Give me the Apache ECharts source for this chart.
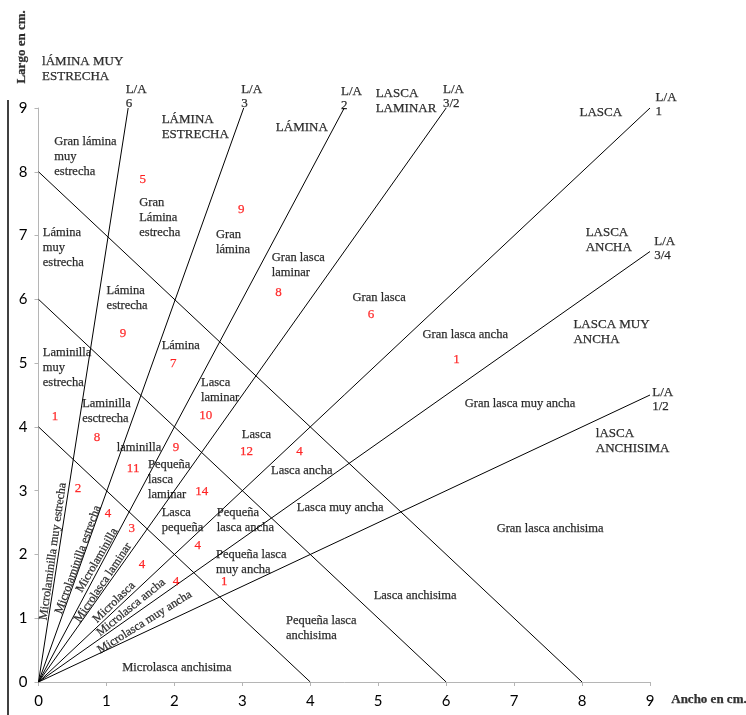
<!DOCTYPE html>
<html>
<head>
<meta charset="utf-8">
<script src="https://cdn.jsdelivr.net/npm/echarts@6/dist/echarts.min.js"></script>
<style>html,body{margin:0;padding:0;background:#fff}#c{width:746px;height:715px}</style>
</head>
<body>
<div id="c"></div>
<script>
// ---- Data ----
const axisMin = 0, axisMax = 9;

// Length/width ratio rays from origin (end points in cm)
const rayNames = ['L/A\n6', 'L/A\n3', 'L/A\n2', 'L/A\n3/2', 'L/A\n1', 'L/A\n3/4', 'L/A\n1/2'];
const rayEndX = [1.32, 3.02, 4.5, 6.0, 9.0, 9.0, 9.0];
const rayEndY = [9.0, 9.0, 9.0, 9.0, 9.0, 6.75, 4.5];
const rayLabelX = [1.29, 2.99, 4.46, 5.96, 9.09, 9.07, 9.04];
const rayLabelY = [9.39, 9.39, 9.36, 9.39, 9.26, 7.01, 4.64];

// Size boundaries (length + width = constant)
const sizeSums = [4, 6, 8];

// Shape classes (headers)
const classNames = ['lÁMINA MUY\nESTRECHA', 'LÁMINA\nESTRECHA', 'LÁMINA', 'LASCA\nLAMINAR', 'LASCA', 'LASCA\nANCHA', 'LASCA MUY\nANCHA', 'lASCA\nANCHISIMA'];
const classX = [0.06, 1.82, 3.50, 4.97, 7.97, 8.06, 7.88, 8.21];
const classY = [9.84, 8.93, 8.81, 9.34, 9.04, 7.15, 5.72, 4.00];

// Size/shape category names
const zoneNames = [
  'Gran lámina\nmuy\nestrecha', 'Lámina\nmuy\nestrecha', 'Gran\nLámina\nestrecha', 'Gran\nlámina',
  'Lámina\nestrecha', 'Lámina', 'Laminilla\nmuy\nestrecha', 'Laminilla\nesctrecha', 'laminilla',
  'Pequeña\nlasca\nlaminar', 'Lasca\npequeña', 'Pequeña lasca\nmuy ancha', 'Pequeña\nlasca ancha',
  'Lasca\nlaminar', 'Lasca', 'Lasca ancha', 'Lasca muy ancha', 'Gran lasca\nlaminar', 'Gran lasca',
  'Gran lasca ancha', 'Gran lasca muy ancha', 'Gran lasca anchisima', 'Lasca anchisima',
  'Pequeña lasca\nanchisima', 'Microlasca anchisima'
];
const zoneX = [0.24, 0.07, 1.49, 2.62, 1.01, 1.82, 0.07, 0.65, 1.16, 1.62, 1.82, 2.62, 2.63,
  2.40, 3.00, 3.43, 3.81, 3.44, 4.63, 5.66, 6.28, 6.75, 4.94, 3.65, 1.24];
const zoneY = [8.58, 7.16, 7.63, 7.12, 6.24, 5.39, 5.28, 4.47, 3.78, 3.51, 2.77, 2.10, 2.77,
  4.80, 3.98, 3.43, 2.84, 6.76, 6.13, 5.56, 4.48, 2.51, 1.46, 1.07, 0.34];

// Micro categories written along the rays
const microNames = ['Microlaminilla muy estrecha', 'Microlaminilla estrecha', 'Microlaminilla',
  'Microlasca laminar', 'Microlasca', 'Microlasca ancha', 'Microlasca muy ancha'];
const microX = [0.22, 0.59, 0.87, 0.96, 1.12, 1.37, 1.57];
const microY = [2.04, 1.91, 1.90, 1.55, 1.24, 1.16, 0.93];
const microAngle = [82, 70, 60, 56, 44, 39, 32];

// Counts of pieces (red numbers)
const counts = ['5', '9', '9', '7', '8', '6', '1', '10', '1', '8', '9', '11', '12', '4', '14',
  '2', '4', '3', '4', '4', '4', '1'];
const countX = [1.54, 2.99, 1.25, 1.99, 3.54, 4.90, 6.16, 2.47, 0.25, 0.87, 2.03, 1.40, 3.07,
  3.85, 2.41, 0.59, 1.03, 1.38, 2.35, 1.53, 2.03, 2.74];
const countY = [7.87, 7.40, 5.45, 4.98, 6.10, 5.75, 5.05, 4.17, 4.15, 3.82, 3.67, 3.34, 3.61,
  3.61, 2.98, 3.03, 2.63, 2.40, 2.13, 1.83, 1.57, 1.57];

// Axis titles
const xTitle = 'Ancho en cm.', yTitle = 'Largo en cm.';
const xTitlePos = [9.32, -0.28], yTitlePos = [-0.235, 9.95];

// ---- Chart ----
const serif = 'Liberation Serif';
const series = [];
const lineStyle = {color: '#000', width: 1};

rayEndX.forEach((ex, i) => {
  series.push({type: 'line', data: [[0, 0], [ex, rayEndY[i]]], showSymbol: false, symbol: 'none',
    lineStyle, silent: true, z: 3});
});
sizeSums.forEach(s => {
  series.push({type: 'line', data: [[0, s], [s, 0]], showSymbol: false, symbol: 'none',
    lineStyle, silent: true, z: 3});
});

function textSeries(names, xs, ys, label, rot) {
  return {
    type: 'scatter', symbolSize: 1, clip: false, silent: true, z: 5,
    itemStyle: {color: 'rgba(0,0,0,0)'},
    data: names.map((n, i) => ({name: n, value: [xs[i], ys[i]],
      label: rot ? {rotate: rot[i]} : undefined})),
    label: Object.assign({show: true, formatter: '{b}', position: [0, 0],
      textBorderColor: label.color, textBorderWidth: 0.25}, label)
  };
}

series.push(textSeries(classNames, classX, classY,
  {align: 'left', verticalAlign: 'top', fontFamily: serif, fontSize: 13, lineHeight: 15, color: '#000'}));
series.push(textSeries(rayNames, rayLabelX, rayLabelY,
  {align: 'left', verticalAlign: 'top', fontFamily: serif, fontSize: 13, lineHeight: 14, color: '#000'}));
series.push(textSeries(zoneNames, zoneX, zoneY,
  {align: 'left', verticalAlign: 'top', fontFamily: serif, fontSize: 12.5, lineHeight: 15, color: '#000'}));
series.push(textSeries(microNames, microX, microY,
  {align: 'center', verticalAlign: 'middle', fontFamily: serif, fontSize: 12, color: '#000'}, microAngle));
series.push(textSeries(counts, countX, countY,
  {align: 'center', verticalAlign: 'middle', fontFamily: serif, fontSize: 13, color: '#ff0000'}));
series.push(textSeries([xTitle], [xTitlePos[0]], [xTitlePos[1]],
  {align: 'left', verticalAlign: 'middle', fontFamily: serif, fontSize: 13, fontWeight: 'bold', color: '#000'}));
series.push(textSeries([yTitle], [yTitlePos[0]], [yTitlePos[1]],
  {align: 'center', verticalAlign: 'middle', fontFamily: serif, fontSize: 13, fontWeight: 'bold', color: '#000'}, [90]));

const axisCommon = {
  type: 'value', min: axisMin, max: axisMax, interval: 1,
  axisLine: {show: true, onZero: false, lineStyle: {color: '#b5b5b5', width: 1}},
  axisTick: {show: true, length: 4, lineStyle: {color: '#b5b5b5'}},
  splitLine: {show: false},
  axisLabel: {color: '#000', fontFamily: 'Lato', fontSize: 15}
};

const chart = echarts.init(document.getElementById('c'), null, {renderer: 'canvas'});
chart.setOption({
  animation: false,
  backgroundColor: '#fff',
  grid: {left: 38.5, right: 96, top: 108, bottom: 33, containLabel: false},
  xAxis: Object.assign({}, axisCommon, {axisLabel: Object.assign({}, axisCommon.axisLabel, {margin: 12})}),
  yAxis: Object.assign({}, axisCommon, {axisLabel: Object.assign({}, axisCommon.axisLabel, {margin: 11})}),
  graphic: [{type: 'line', shape: {x1: 8, y1: 100, x2: 8, y2: 715}, style: {stroke: '#000', lineWidth: 1.5}, silent: true}],
  series
});
</script>
</body>
</html>
